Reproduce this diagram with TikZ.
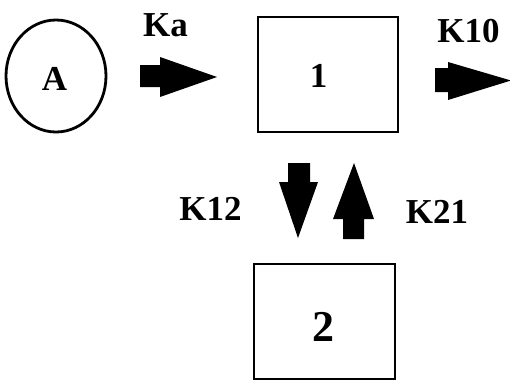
\documentclass[tikz,border=0pt]{standalone}
\usepackage{fontspec}
\setmainfont{Liberation Serif}
\usetikzlibrary{shapes.geometric}
\begin{document}
\begin{tikzpicture}[x=1pt,y=-1pt,
  lbl/.style={inner sep=0pt,font=\bfseries\fontsize{35}{35}\selectfont},
  comp/.style={draw,line width=2.8pt,inner sep=0pt},
  blockarrow/.style={fill=black,draw=none}]
\useasboundingbox (0,0) rectangle (510,383);
% compartments
\node[comp,ellipse,minimum width=100pt,minimum height=112pt] (A) at (56,76) {};
\node[comp,rectangle,minimum width=140pt,minimum height=115pt] (c1) at (328,74.5) {};
\node[comp,rectangle,minimum width=141pt,minimum height=115pt] (c2) at (324.5,321.5) {};
% labels
\node[lbl] (tA) at (54.5,79) {A};
\node[lbl] (t1) at (318.5,76) {1};
\node[lbl,font=\bfseries\fontsize{44}{44}\selectfont] (t2) at (323.5,327) {2};
\node[lbl] (ka) at (165.5,25) {Ka};
\node[lbl] (k10) at (468.5,31.5) {K10};
\node[lbl] (k12) at (210.5,209) {K12};
\node[lbl] (k21) at (437,211.5) {K21};
% block arrows
\fill[blockarrow] (140,65) -- (160,65) -- (160,57) -- (217,77) -- (160,97) -- (160,87) -- (140,87) -- cycle;
\fill[blockarrow] (435,68) -- (448,68) -- (448,62) -- (511,80.5) -- (448,100) -- (448,92) -- (435,92) -- cycle;
\fill[blockarrow] (288,163) -- (310,163) -- (310,182) -- (318,182) -- (298,238) -- (279,182) -- (288,182) -- cycle;
\fill[blockarrow] (343,239) -- (364,239) -- (364,219) -- (374,219) -- (354,163) -- (333,219) -- (343,219) -- cycle;
\end{tikzpicture}
\end{document}
